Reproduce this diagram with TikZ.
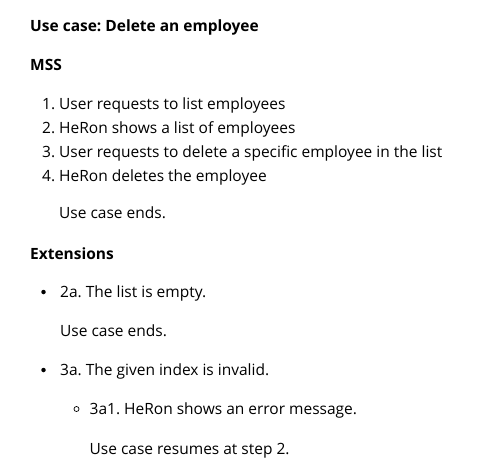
\documentclass[tikz,border=0pt]{standalone}
\usepackage{fontspec}
\setmainfont{Open Sans}
\usetikzlibrary{positioning}
\frenchspacing

\tikzset{
  txt/.style={anchor=base west,inner sep=0pt,font=\fontsize{15.5}{18}\selectfont},
  head/.style={txt,font=\fontsize{15.5}{18}\selectfont\bfseries},
  dot/.style={circle,fill=black,inner sep=0pt,minimum size=4.5pt},
  ring/.style={circle,draw=black,line width=.7pt,inner sep=0pt,minimum size=5pt}
}

\begin{document}
\begin{tikzpicture}[x=1pt,y=-1pt]
\useasboundingbox (0,0) rectangle (486,471);
% headings
\node[head] (title) at (30,31) {Use case: Delete an employee};
\node[head] (mss) at (30,70) {MSS};
% main success scenario
\foreach \n/\y/\t in {1/109/User requests to list employees,
  2/133/HeRon shows a list of employees,
  3/157/User requests to delete a specific employee in the list,
  4/181/HeRon deletes the employee}
{
  \node[txt] (num\n) at (42,\y) {\n.};
  \node[txt] (step\n) at (59,\y) {\t};
}
\node[txt] (end1) at (59,218) {Use case ends.};
% extensions
\node[head] (ext) at (30,259) {Extensions};
\node[dot] (b2a) at (43.5,292) {};
\node[txt] (ext2a) at (60,297) {2a. The list is empty.};
\node[txt] (end2) at (60,336) {Use case ends.};
\node[dot] (b3a) at (43.5,370) {};
\node[txt] (ext3a) at (60,375) {3a. The given index is invalid.};
\node[ring] (b3a1) at (76.5,409) {};
\node[txt] (ext3a1) at (89.5,414) {3a1. HeRon shows an error message.};
\node[txt] (end3) at (89.5,454) {Use case resumes at step 2.};
\end{tikzpicture}
\end{document}
